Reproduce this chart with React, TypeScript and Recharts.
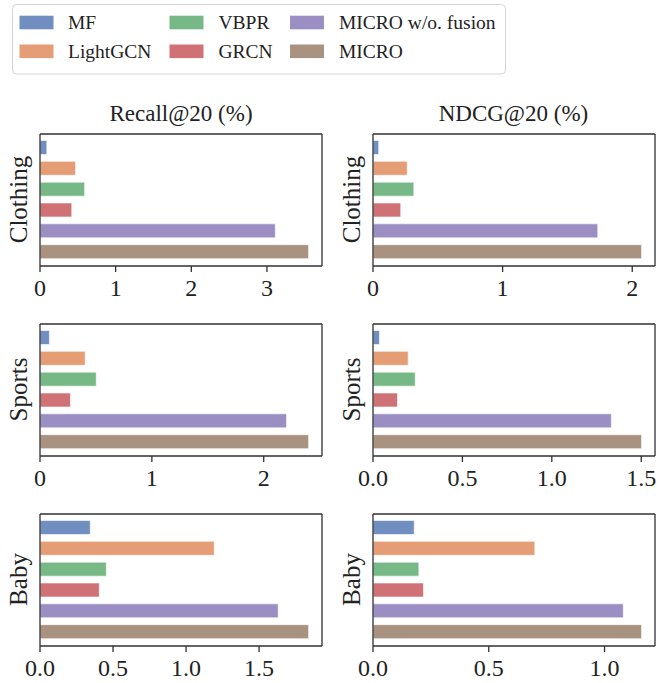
import React from 'react';
import { ComposedChart, Bar, Line, XAxis, YAxis, Cell } from 'recharts';

// methods / colours (seaborn "deep", drawn at 0.8 alpha)
const methods = ['MF', 'LightGCN', 'VBPR', 'GRCN', 'MICRO w/o. fusion', 'MICRO'];
const colors = ['#4C72B0', '#DD8452', '#55A868', '#C44E52', '#8172B3', '#937860'];

const datasets = ['Clothing', 'Sports', 'Baby'];
const metrics = ['Recall@20 (%)', 'NDCG@20 (%)'];

// values
const recallClothing = [0.09, 0.47, 0.59, 0.42, 3.11, 3.55];
const ndcgClothing = [0.044, 0.264, 0.315, 0.214, 1.734, 2.072];
const recallSports = [0.084, 0.404, 0.503, 0.272, 2.204, 2.401];
const ndcgSports = [0.036, 0.197, 0.236, 0.137, 1.333, 1.502];
const recallBaby = [0.344, 1.193, 0.454, 0.406, 1.631, 1.839];
const ndcgBaby = [0.178, 0.699, 0.198, 0.218, 1.081, 1.16];

const recallClothingTicks = [0, 1, 2, 3];
const ndcgClothingTicks = [0, 1, 2];
const recallSportsTicks = [0, 1, 2];
const ndcgSportsTicks = [0, 0.5, 1, 1.5];
const recallBabyTicks = [0, 0.5, 1, 1.5];
const ndcgBabyTicks = [0, 0.5, 1];

// layout
const FONT = '"Liberation Serif", "DejaVu Serif", serif';
const FRAME = '#303030';
const TEXT = '#222222';
const PW = 282; // plot width
const PH = 132; // plot height
const ML = 26; // space left of plot (includes 1px frame axis)
const MR = 16;
const MT = 4;
const XH = 44;
const colLeft = [40, 372.5];
const rowTop = [133.5, 323.5, 513.5];

const panels = [
  { values: recallClothing, ticks: recallClothingTicks, digits: 0 },
  { values: ndcgClothing, ticks: ndcgClothingTicks, digits: 0 },
  { values: recallSports, ticks: recallSportsTicks, digits: 0 },
  { values: ndcgSports, ticks: ndcgSportsTicks, digits: 1 },
  { values: recallBaby, ticks: recallBabyTicks, digits: 1 },
  { values: ndcgBaby, ticks: ndcgBabyTicks, digits: 1 },
];

// legend layout (matplotlib fills columns first)
const legendPatchX = [19.5, 169.5, 290];
const legendTextX = [68, 218.5, 339];

const Panel = ({ left, top, values, ticks, digits }: any) => {
  const data = methods.map((name, i) => ({ name, value: values[i] }));
  const max = Math.max(...values) * 1.05;
  const line = { stroke: FRAME, strokeWidth: 1.3 };

  return (
    <div style={{ position: 'absolute', left: left - ML, top: top - MT }}>
      <ComposedChart
        width={PW + ML + MR}
        height={PH + MT + XH}
        data={data}
        layout="vertical"
        margin={{ top: MT - 1, right: MR - 1, bottom: 0, left: ML - 1 }}
        style={{ fontFamily: FONT }}
      >
        <XAxis
          type="number"
          domain={[0, max]}
          allowDataOverflow
          ticks={ticks}
          tickFormatter={(v: number) => v.toFixed(digits)}
          tick={{ fontSize: 24, fill: TEXT, fontFamily: FONT }}
          tickSize={6}
          tickMargin={7}
          tickLine={line}
          axisLine={line}
          height={XH}
        />
        <XAxis
          xAxisId="top"
          orientation="top"
          type="number"
          domain={[0, max]}
          allowDataOverflow
          height={1}
          tick={false}
          tickLine={false}
          axisLine={line}
        />
        <YAxis
          type="category"
          dataKey="name"
          width={1}
          tick={false}
          tickLine={false}
          axisLine={line}
          padding={{ top: 3.5, bottom: 3.5 }}
        />
        <YAxis
          yAxisId="right"
          orientation="right"
          type="category"
          dataKey="name"
          width={1}
          tick={false}
          tickLine={false}
          axisLine={line}
        />
        <Bar dataKey="value" barSize={14} isAnimationActive={false}>
          {data.map((d, i) => (
            <Cell key={d.name} fill={colors[i]} fillOpacity={0.8} stroke="#ffffff" strokeWidth={0.6} />
          ))}
        </Bar>
        {/* invisible series so the top / right frame axes get drawn */}
        <Line
          xAxisId="top"
          yAxisId="right"
          dataKey="value"
          stroke="none"
          dot={false}
          activeDot={false}
          legendType="none"
          isAnimationActive={false}
        />
      </ComposedChart>
    </div>
  );
};

export default function App() {
  return (
    <div
      style={{
        position: 'absolute',
        left: 0,
        top: 0,
        width: 672,
        height: 683,
        background: '#fff',
        fontFamily: FONT,
      }}
    >
      {panels.map((p, i) => (
        <Panel
          key={i}
          left={colLeft[i % 2]}
          top={rowTop[Math.floor(i / 2)]}
          values={p.values}
          ticks={p.ticks}
          digits={p.digits}
        />
      ))}

      <svg
        width={672}
        height={683}
        style={{ position: 'absolute', left: 0, top: 0, pointerEvents: 'none', fontFamily: FONT }}
      >
        {/* legend */}
        <rect x={12.5} y={4.5} width={493} height={69.5} rx={4} fill="#fff" fillOpacity={0.8} stroke="#d4d4d4" strokeWidth={1} />
        {methods.map((m, i) => {
          const c = Math.floor(i / 2);
          const r = i % 2;
          return (
            <g key={m}>
              <rect x={legendPatchX[c]} y={15.7 + r * 28.8} width={34} height={13.6} fill={colors[i]} fillOpacity={0.8} />
              <text x={legendTextX[c]} y={29.3 + r * 28.8} fontSize={19.5} fill={TEXT} style={{ fontFamily: FONT }}>
                {m}
              </text>
            </g>
          );
        })}

        {/* column titles */}
        {metrics.map((t, c) => (
          <text key={t} x={colLeft[c] + PW / 2} y={121} fontSize={23} fill={TEXT} textAnchor="middle" style={{ fontFamily: FONT }}>
            {t}
          </text>
        ))}

        {/* row labels */}
        {datasets.map((d, r) =>
          [27, 360].map((bx, c) => {
            const cy = rowTop[r] + PH / 2;
            return (
              <text
                key={d + c}
                x={bx}
                y={cy}
                fontSize={25}
                fill={TEXT}
                textAnchor="middle"
                transform={`rotate(-90, ${bx}, ${cy})`}
                style={{ fontFamily: FONT }}
              >
                {d}
              </text>
            );
          })
        )}
      </svg>
    </div>
  );
}
